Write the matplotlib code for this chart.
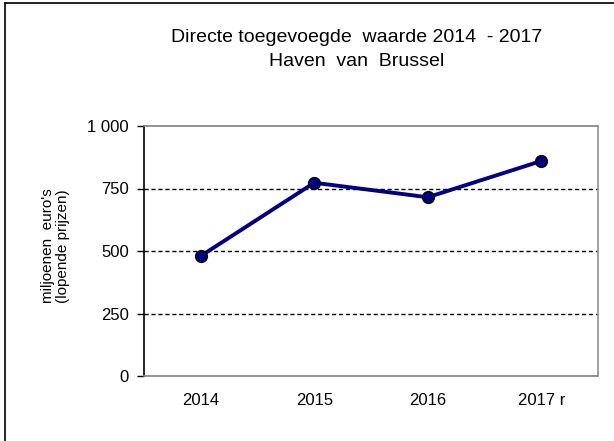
import matplotlib
matplotlib.use("Agg")
import matplotlib.pyplot as plt
from matplotlib.lines import Line2D

plt.rcParams['font.family'] = ['Liberation Sans', 'DejaVu Sans']

categories = ["2014", "2015", "2016", "2017 r"]
values = [480, 773, 715, 860]
yticks = [0, 250, 500, 750, 1000]
ytick_labels = ["0", "250", "500", "750", "1 000"]

W, H = 614, 441
fig = plt.figure(figsize=(W/100, H/100), dpi=100)
ax = fig.add_axes([144/W, 1-376/H, (598-144)/W, (376-126)/H])

x = list(range(len(categories)))
ax.plot(x, values, color='#000080', lw=2.8, marker='o', ms=8.5,
        mfc='#000080', mec='black', mew=1.0, zorder=5, clip_on=False)

ax.set_xlim(-0.5, len(categories) - 0.5)
ax.set_ylim(0, 1000)
ax.set_xticks(x)
ax.set_xticklabels(categories, fontsize=12)
ax.set_yticks(yticks)
ax.set_yticklabels(ytick_labels, fontsize=12)
ax.tick_params(axis='x', length=0, pad=12)
ax.tick_params(axis='y', direction='out', length=5, width=1, color='black', pad=6)

for v in yticks[1:-1]:
    ax.axhline(v, color='black', lw=1.0, ls=(0, (3, 2)), zorder=1)

ax.spines['left'].set_color('black')
ax.spines['left'].set_linewidth(1.2)
ax.spines['top'].set_color('#808080')
ax.spines['top'].set_linestyle((0, (2, 1)))
ax.spines['top'].set_linewidth(1.2)
ax.spines['bottom'].set_color('#808080')
ax.spines['bottom'].set_linestyle((0, (2, 1)))
ax.spines['bottom'].set_linewidth(1.2)
ax.spines['right'].set_color('#909090')
ax.spines['right'].set_linewidth(1.2)

ax.set_ylabel("miljoenen  euro's\n(lopende prijzen)", fontsize=11,
              linespacing=1.05)
ax.yaxis.set_label_coords(-0.163, 0.52)

fig.text(357/W, 1-38/H, "Directe toegevoegde  waarde 2014  - 2017",
         ha='center', va='center', fontsize=14)
fig.text(357/W, 1-61/H, "Haven  van  Brussel",
         ha='center', va='center', fontsize=14)

# outer frame
fig.add_artist(Line2D([5/W, 5/W], [0, 1-3/H], transform=fig.transFigure,
                      color='black', lw=1.2))
fig.add_artist(Line2D([5/W, 1], [1-3/H, 1-3/H], transform=fig.transFigure,
                      color='black', lw=1.2))

fig.savefig("out.png", dpi=100)
